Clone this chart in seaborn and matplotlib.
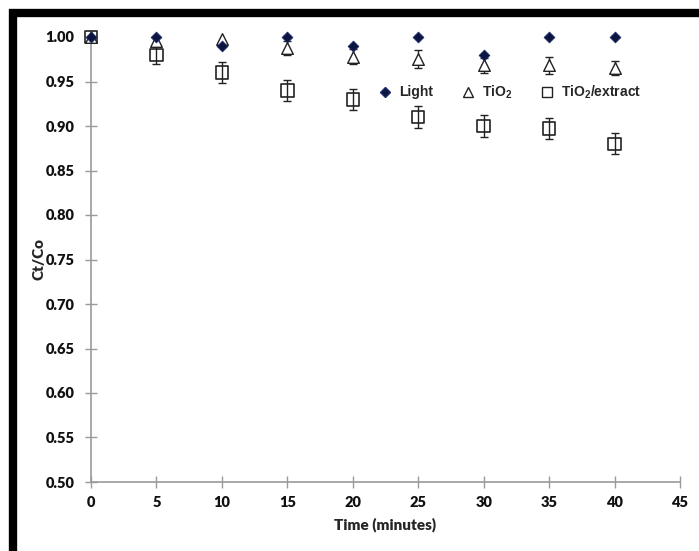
import numpy as np
import pandas as pd
import matplotlib
matplotlib.use("Agg")
import matplotlib.pyplot as plt
from matplotlib.patches import Rectangle
from matplotlib.lines import Line2D
import seaborn as sns

time = [0, 5, 10, 15, 20, 25, 30, 35, 40]
light = [1.00, 1.00, 0.99, 1.00, 0.99, 1.00, 0.98, 1.00, 1.00]
tio2 = [1.00, 0.996, 0.998, 0.988, 0.978, 0.975, 0.968, 0.968, 0.965]
tio2_err = [0.004, 0.006, 0.006, 0.008, 0.008, 0.010, 0.008, 0.010, 0.008]
extract = [1.00, 0.98, 0.96, 0.94, 0.93, 0.91, 0.90, 0.897, 0.88]
extract_err = [0.004, 0.01, 0.012, 0.012, 0.012, 0.012, 0.012, 0.012, 0.012]
series_names = ["Light", "TiO$_2$", "TiO$_2$/extract"]
xticks = [0, 5, 10, 15, 20, 25, 30, 35, 40, 45]
yticks = [0.50, 0.55, 0.60, 0.65, 0.70, 0.75, 0.80, 0.85, 0.90, 0.95, 1.00]

sns.set_style("white")
plt.rcParams["font.family"] = ["Lato", "DejaVu Sans"]
plt.rcParams["mathtext.fontset"] = "custom"
plt.rcParams["mathtext.bf"] = "Liberation Sans:bold"
plt.rcParams["mathtext.rm"] = "Liberation Sans:bold"
plt.rcParams["mathtext.default"] = "bf"

df = pd.DataFrame({
    "time": time * 3,
    "val": light + tio2 + extract,
    "err": [0] * 9 + tio2_err + extract_err,
    "series": [series_names[0]] * 9 + [series_names[1]] * 9 + [series_names[2]] * 9,
})

fig = plt.figure(figsize=(6.99, 5.51), dpi=100)
ax = fig.add_axes([91 / 699, 1 - 482 / 551, 589 / 699, 445 / 551])

grey = "#9a9a9a"
for name in series_names[1:]:
    sub = df[df.series == name]
    ax.errorbar(sub.time, sub.val, yerr=sub.err, fmt="none", ecolor="#222222",
                elinewidth=1.0, capsize=3, capthick=1.0, zorder=2)

styles = {series_names[0]: dict(marker="D", s=30, facecolor="#0b1540", edgecolor="#1a2a6a", lw=0.6),
          series_names[1]: dict(marker="^", s=70, facecolor="white", edgecolor="#222222", lw=1.0),
          series_names[2]: dict(marker="s", s=80, facecolor="none", edgecolor="#222222", lw=1.2)}
order = [series_names[2], series_names[1], series_names[0]]
for name in order:
    st = styles[name]
    sns.scatterplot(data=df[df.series == name], x="time", y="val", ax=ax,
                    marker=st["marker"], s=st["s"], facecolor=st["facecolor"],
                    edgecolor=st["edgecolor"], linewidth=st["lw"], zorder=3,
                    label=name, legend=False, clip_on=False)

ax.set_xlim(0, 45)
ax.set_ylim(0.5, 1.0)
ax.set_xticks(xticks)
ax.set_yticks(yticks)
ax.set_xticklabels([str(t) for t in xticks], fontweight="heavy", fontsize=10.5)
ax.set_yticklabels([f"{t:.2f}" for t in yticks], fontweight="heavy", fontsize=10.5)
for s in ["top", "right"]:
    ax.spines[s].set_visible(False)
for s in ["left", "bottom"]:
    ax.spines[s].set_color(grey)
    ax.spines[s].set_linewidth(1.2)
ax.tick_params(axis="both", direction="inout", length=8, width=1.0, color=grey,
               left=True, bottom=True, labelcolor="#111111")
ax.tick_params(axis="y", pad=8)
ax.tick_params(axis="x", pad=6)
ax.set_xlabel("Time (minutes)", fontweight="heavy", fontsize=11, labelpad=6)
ax.set_ylabel("Ct/Co", fontweight="heavy", fontsize=11, labelpad=0)

handles = [
    Line2D([], [], marker="D", ls="none", markersize=5, markerfacecolor="#0b1540", markeredgecolor="#1a2a6a"),
    Line2D([], [], marker="^", ls="none", markersize=7, markerfacecolor="white", markeredgecolor="#222222"),
    Line2D([], [], marker="s", ls="none", markersize=7, markerfacecolor="white", markeredgecolor="#222222"),
]
leg = ax.legend(handles, series_names, loc="center left", bbox_to_anchor=(0.478, 0.876),
                ncol=3, frameon=False, handletextpad=0.5, columnspacing=2.0,
                handlelength=1.0, borderaxespad=0,
                prop={"family": "Liberation Sans", "weight": "bold", "size": 10})

fig.patches.append(Rectangle((13 / 699, -0.02), 1.1, 1 - 13 / 551 + 0.02, transform=fig.transFigure,
                             fill=False, edgecolor="black", linewidth=6, zorder=10))

fig.savefig("out.png", dpi=100)
